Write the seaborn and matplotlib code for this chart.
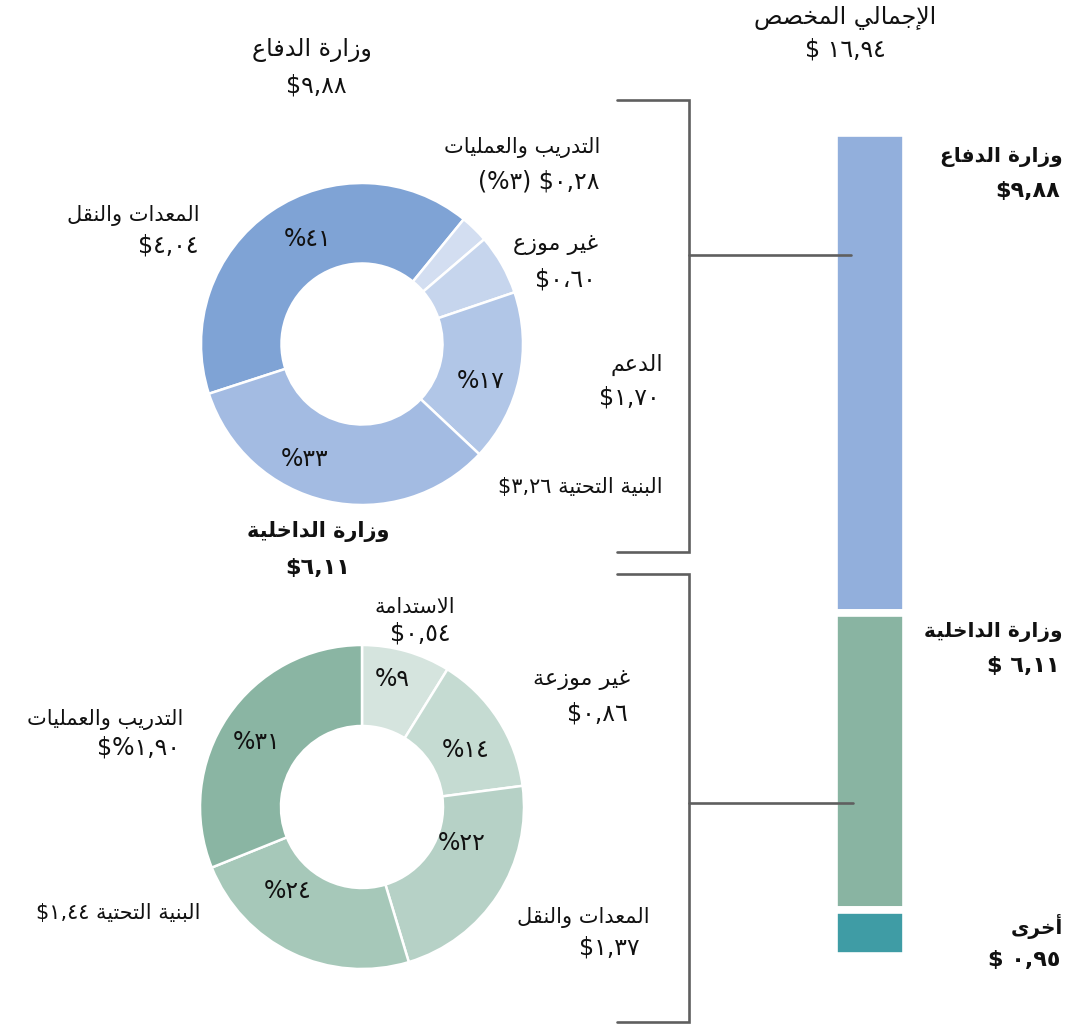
import matplotlib
matplotlib.use("Agg")
import matplotlib.pyplot as plt
import seaborn as sns

sns.set_theme(style="white")
plt.rcParams["font.family"] = ["DejaVu Sans"]

# ---------------------------------------
# data
# ---------------------------------------
defense_labels = ["المعدات والنقل", "التدريب والعمليات", "غير موزع", "الدعم", "البنية التحتية"]
defense_values = [4.04, 0.28, 0.60, 1.70, 3.26]
defense_colors = ["#7fa3d5", "#d3def1", "#c6d5ed", "#b1c6e7", "#a3bbe2"]

interior_labels = ["الاستدامة", "غير موزعة", "المعدات والنقل", "البنية التحتية", "التدريب والعمليات"]
interior_values = [0.54, 0.86, 1.37, 1.44, 1.90]
interior_colors = ["#d5e4de", "#c5dbd2", "#b6d1c6", "#a6c8b9", "#8ab5a3"]

total_labels = ["وزارة الدفاع", "وزارة الداخلية", "أخرى"]
total_values = [9.88, 6.11, 0.95]
total_amounts = ["$٩,٨٨", "$ ٦,١١", "$ ٠,٩٥"]
total_colors = ["#92afdc", "#89b4a2", "#3f9ca5"]

# ---------------------------------------
# simple arabic shaping (presentation forms + visual order)
# ---------------------------------------
_DUAL = {"ب": 0xFE8F, "ت": 0xFE95, "ث": 0xFE99, "ج": 0xFE9D, "ح": 0xFEA1, "خ": 0xFEA5,
         "س": 0xFEB1, "ش": 0xFEB5, "ص": 0xFEB9, "ض": 0xFEBD, "ط": 0xFEC1, "ظ": 0xFEC5,
         "ع": 0xFEC9, "غ": 0xFECD, "ف": 0xFED1, "ق": 0xFED5, "ك": 0xFED9, "ل": 0xFEDD,
         "م": 0xFEE1, "ن": 0xFEE5, "ه": 0xFEE9, "ي": 0xFEF1}
_RIGHT = {"ا": 0xFE8D, "أ": 0xFE83, "إ": 0xFE87, "آ": 0xFE81, "د": 0xFEA9, "ذ": 0xFEAB,
          "ر": 0xFEAD, "ز": 0xFEAF, "و": 0xFEED, "ة": 0xFE93, "ى": 0xFEEF}
_LAMALEF = {"ا": 0xFEFB, "أ": 0xFEF7, "إ": 0xFEF9, "آ": 0xFEF5}


def ar(text):
    units = []
    i = 0
    while i < len(text):
        c = text[i]
        if c == "ل" and i + 1 < len(text) and text[i + 1] in _LAMALEF:
            units.append(("R", _LAMALEF[text[i + 1]]))
            i += 2
            continue
        if c in _DUAL:
            units.append(("D", _DUAL[c]))
        elif c in _RIGHT:
            units.append(("R", _RIGHT[c]))
        else:
            units.append((None, c))
        i += 1
    out = []
    for k, (t, base) in enumerate(units):
        if t is None:
            out.append(base)
            continue
        prev = k > 0 and units[k - 1][0] == "D"
        nxt = t == "D" and k + 1 < len(units) and units[k + 1][0] in ("D", "R")
        off = 3 if (prev and nxt) else 1 if prev else 2 if nxt else 0
        out.append(chr(base + off))
    return "".join(out[::-1])


W, H = 1073, 1025
fig = plt.figure(figsize=(W / 100, H / 100), dpi=100)
fig.patch.set_facecolor("white")


def px_axes(x0, y0, w, h):
    return fig.add_axes([x0 / W, 1 - (y0 + h) / H, w / W, h / H])


# ---------------------------------------
# donuts
# ---------------------------------------
ax1 = px_axes(201, 183, 322, 322)
ax1.pie(defense_values, colors=defense_colors, startangle=198, counterclock=False,
        radius=1, wedgeprops=dict(width=0.5, edgecolor="white", linewidth=1.8))
ax1.set_xlim(-1, 1)
ax1.set_ylim(-1, 1)

ax2 = px_axes(200, 645, 324, 324)
ax2.pie(interior_values, colors=interior_colors, startangle=90, counterclock=False,
        radius=1, wedgeprops=dict(width=0.5, edgecolor="white", linewidth=1.8))
ax2.set_xlim(-1, 1)
ax2.set_ylim(-1, 1)

# ---------------------------------------
# stacked total bar
# ---------------------------------------
bar_top, bar_h = 137, 815
axb = px_axes(834, bar_top - 4, 72, bar_h + 8)
bottom = 0
for v, c in zip(total_values, total_colors):
    axb.bar(0, v, bottom=bottom, width=1, color=c, edgecolor="white", linewidth=5.5)
    bottom += v
axb.set_xlim(-0.5, 0.5)
axb.set_ylim(sum(total_values), 0)
axb.margins(0)
axb.axis("off")

# overlay axes in pixel coordinates for text and brackets (on top of everything)
bg = fig.add_axes([0, 0, 1, 1])
bg.set_xlim(0, W)
bg.set_ylim(H, 0)
bg.patch.set_alpha(0)
bg.axis("off")

# ---------------------------------------
# brackets
# ---------------------------------------
lc = "#5f5f5f"
lw = 1.9
bg.plot([617, 689, 689, 617], [100, 100, 552, 552], color=lc, lw=lw, solid_joinstyle="miter")
bg.plot([689, 851], [255, 255], color=lc, lw=lw)
bg.plot([617, 689, 689, 617], [574, 574, 1022, 1022], color=lc, lw=lw, solid_joinstyle="miter")
bg.plot([689, 853], [803, 803], color=lc, lw=lw)

# ---------------------------------------
# texts
# ---------------------------------------
FA = 15   # arabic words
FN = 17   # numbers


def t(x, y, s, ha="center", bold=False, fs=FA):
    bg.text(x, y, s, ha=ha, va="center", fontsize=fs,
            fontweight="bold" if bold else "normal", color="#111111")


# defense donut
t(312, 50, ar("وزارة الدفاع"), fs=17)
t(316, 85, "$٩,٨٨", fs=FN)
t(600, 148, ar(defense_labels[1]), ha="right")
t(600, 182, "(%٣) $٠,٢٨", ha="right", fs=FN)
t(200, 215, ar(defense_labels[0]), ha="right")
t(198, 245, "$٤,٠٤", ha="right", fs=FN)
t(598, 245, ar(defense_labels[2]), ha="right", fs=16)
t(596, 279, "$٠،٦٠", ha="right", fs=FN)
t(663, 365, ar(defense_labels[3]), ha="right", fs=16)
t(660, 398, "$١,٧٠", ha="right", fs=FN)
t(663, 487, "$٣,٢٦ " + ar(defense_labels[4]), ha="right")
t(308, 239, "%٤١", fs=FN)
t(305, 459, "%٣٣", fs=FN)
t(481, 381, "%١٧", fs=FN)

# interior donut
t(318, 532, ar("وزارة الداخلية"), bold=True, fs=15)
t(318, 568, "$٦,١١", bold=True, fs=16)
t(415, 607, ar(interior_labels[0]))
t(420, 634, "$٠,٥٤", fs=FN)
t(630, 680, ar(interior_labels[1]), ha="right", fs=16)
t(628, 713, "$٠,٨٦", ha="right", fs=FN)
t(183, 719, ar(interior_labels[4]), ha="right")
t(180, 748, "$%١,٩٠", ha="right", fs=FN)
t(200, 913, "$١,٤٤ " + ar(interior_labels[3]), ha="right")
t(650, 918, ar(interior_labels[2]), ha="right")
t(640, 947, "$١,٣٧", ha="right", fs=FN)
t(392, 679, "%٩", fs=FN)
t(466, 750, "%١٤", fs=FN)
t(462, 843, "%٢٢", fs=FN)
t(288, 891, "%٢٤", fs=FN)
t(257, 742, "%٣١", fs=FN)

# total bar
t(845, 18, ar("الإجمالي المخصص"), fs=17)
t(845, 50, "$ ١٦,٩٤", fs=FN)
cum = 0
for lab, amt, v in zip(total_labels, total_amounts, total_values):
    y = bar_top + cum / sum(total_values) * bar_h
    t(1063, y + 20, ar(lab), ha="right", bold=True, fs=14.5)
    t(1060, y + 54, amt, ha="right", bold=True, fs=16)
    cum += v

fig.savefig("out.png", dpi=100)
